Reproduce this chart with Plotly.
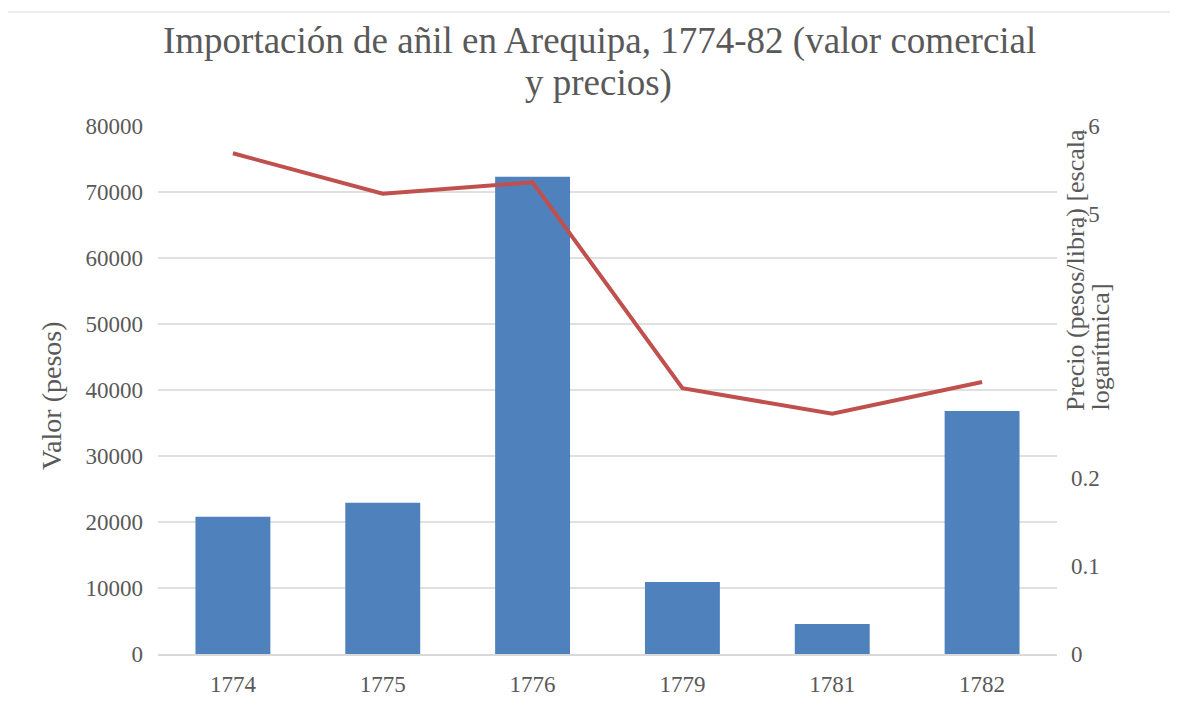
import plotly.graph_objects as go

years = ["1774", "1775", "1776", "1779", "1781", "1782"]
valor = [20800, 22900, 72300, 10900, 4550, 36800]
precio = [0.569, 0.523, 0.536, 0.302, 0.273, 0.309]
left_ticks = [0, 10000, 20000, 30000, 40000, 50000, 60000, 70000, 80000]
left_labels = ["0", "10000", "20000", "30000", "40000", "50000", "60000", "70000", "80000"]
right_ticks = [0, 0.1, 0.2, 0.3, 0.4, 0.5, 0.6]
# leading "0" of the upper labels is hidden behind the axis title in the reference
right_labels = ["0", "0.1", "0.2", "", "", "\u2007.5", "\u2007.6"]

FONT = "Liberation Serif, serif"
GRAY = "#595959"

# page has an 8px body offset; work in page pixel coordinates
OFF = 8
W, H = 1178 - OFF, 711 - OFF
L, T, R, B = 158 - OFF, 126 - OFF, 121, 57
plot_w = W - L - R
plot_h = H - T - B
def px_x(x): return (x - OFF - L) / plot_w
def px_y(y): return (H - B - (y - OFF)) / plot_h

fig = go.Figure()
fig.add_trace(go.Bar(x=years, y=valor, marker=dict(color="#4f81bd", line=dict(width=0)),
                     name="Valor", yaxis="y"))
fig.add_trace(go.Scatter(x=years, y=precio, mode="lines", line=dict(color="#c0504d", width=4),
                         name="Precio", yaxis="y2"))

fig.update_layout(
    width=W, height=H,
    margin=dict(l=L, r=R, t=T, b=B),
    paper_bgcolor="white", plot_bgcolor="white",
    showlegend=False,
    bargap=0.5,
    font=dict(family=FONT, color=GRAY, size=23),
    xaxis=dict(type="category", showgrid=False, showline=True, linecolor="#d9d9d9", linewidth=1.5,
               ticks="", ticklabelstandoff=9, tickfont=dict(size=23, color=GRAY, family=FONT)),
    yaxis=dict(range=[0, 80000], tickvals=left_ticks, ticktext=left_labels, showgrid=True,
               gridcolor="#e0e0e0", gridwidth=1.5,
               zeroline=False, ticks="", ticklabelstandoff=14,
               tickfont=dict(size=23, color=GRAY, family=FONT)),
    yaxis2=dict(range=[0, 0.6], overlaying="y", side="right", tickvals=right_ticks, ticktext=right_labels,
                showgrid=False, zeroline=False, ticks="", ticklabelstandoff=13,
                tickfont=dict(size=23, color=GRAY, family=FONT)),
    annotations=[
        dict(text="Importación de añil en Arequipa, 1774-82 (valor comercial",
             x=px_x(599), y=px_y(41), xref="paper", yref="paper", yanchor="middle", xanchor="center",
             showarrow=False, font=dict(size=37, color=GRAY, family=FONT)),
        dict(text="y precios)",
             x=px_x(598), y=px_y(83), xref="paper", yref="paper", yanchor="middle", xanchor="center",
             showarrow=False, font=dict(size=37, color=GRAY, family=FONT)),
        dict(text="Valor (pesos)", textangle=-90, xref="paper", yref="paper",
             x=px_x(51), y=px_y(396), xanchor="center", yanchor="middle",
             showarrow=False, font=dict(size=28, color=GRAY, family=FONT)),
        dict(text="Precio (pesos/libra) [escala", textangle=-90,
             xref="paper", yref="paper", x=px_x(1075), y=px_y(413), xanchor="center", yanchor="bottom",
             showarrow=False, font=dict(size=26, color=GRAY, family=FONT)),
        dict(text="logarítmica]", textangle=-90,
             xref="paper", yref="paper", x=px_x(1100), y=px_y(413), xanchor="center", yanchor="bottom",
             showarrow=False, font=dict(size=26, color=GRAY, family=FONT)),
    ],
)

fig.add_shape(type="rect", xref="paper", yref="paper", x0=px_x(6), x1=px_x(1200), y0=px_y(730), y1=px_y(12),
              line=dict(color="#d9d9d9", width=1), fillcolor="rgba(0,0,0,0)", layer="below")

fig.write_html("out.html")
